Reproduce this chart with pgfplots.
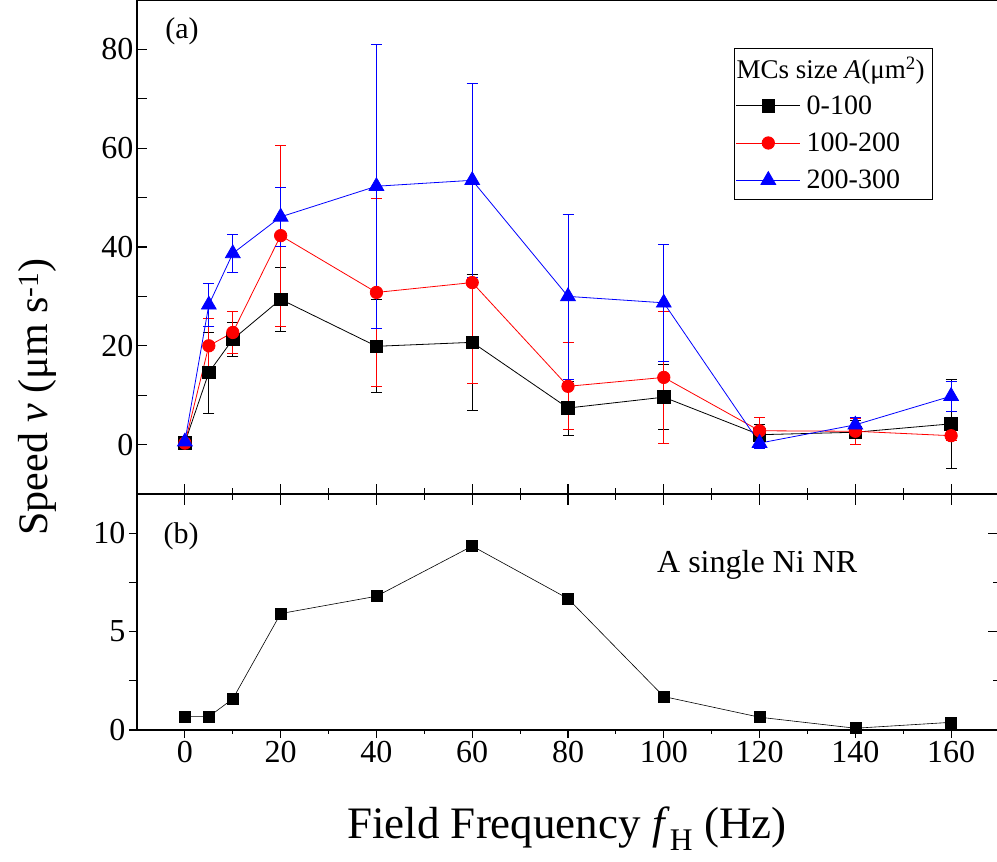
\documentclass[border=0pt]{standalone}
\usepackage{pgfplots}
\pgfplotsset{compat=1.18}
\usepackage{pgfplotstable}
\usepackage{fontspec}
\setmainfont{Liberation Serif}

\pgfplotstableread{
x y ey
0 0.4 0.3
5 14.6 8.2
10 21.3 3.4
20 29.4 6.4
40 19.9 9.4
60 20.7 13.7
80 7.4 5.5
100 9.6 6.6
120 2.0 2.0
140 2.5 2.5
160 4.2 9.0
}\tblack

\pgfplotstableread{
x y ey
0 0.3 0.3
5 20.0 5.6
10 22.7 4.2
20 42.3 18.3
40 30.8 19.0
60 32.8 20.4
80 11.8 8.8
100 13.6 13.4
120 2.8 2.8
140 2.7 2.6
160 1.8 1.0
}\tred

\pgfplotstableread{
x y ey
0 0.6 0.5
5 28.3 4.3
10 38.7 3.9
20 46.1 6.0
40 52.3 28.7
60 53.5 19.6
80 30.0 16.7
100 28.7 11.9
120 0.3 1.0
140 4.0 1.5
160 9.8 3.0
}\tblue

\pgfplotstableread{
x y
0 0.68
5 0.68
10 1.58
20 5.92
40 6.80
60 9.35
80 6.68
100 1.70
120 0.65
140 0.09
160 0.39
}\tsingle

\pgfplotsset{
  common/.style={
    scale only axis, width=862pt,
    xmin=-10, xmax=170,
    xtick={0,20,...,160}, minor x tick num=1,
    axis line style={line width=1.2pt},
    every tick/.style={line width=1.2pt, black},
    tick label style={font=\fontsize{32}{38}\selectfont},
    /pgf/number format/assume math mode=true,
    clip=false,
  },
  eb/.style={error bars/.cd, y dir=both, y explicit,
    error bar style={line width=0.7pt},
    error mark options={rotate=90, mark size=5.5pt, line width=0.7pt}},
}

\begin{document}
\begin{tikzpicture}
\useasboundingbox (-137pt,-132pt) rectangle (860pt,730pt);

% top panel
\begin{axis}[common,
  at={(0pt,236pt)}, anchor=south west, height=494pt,
  ymin=-10, ymax=90,
  ytick={0,20,...,80},
  extra y ticks={10,30,50,70}, extra y tick labels={},
  xticklabels={},
  tick align=inside, xtick pos=bottom, ytick pos=left,
  major tick length=10pt, minor tick length=6pt,
  legend style={at={(0.692,0.903)}, anchor=north west, draw=black,
    line width=0.8pt, font=\fontsize{28}{32}\selectfont,
    cells={anchor=west, inner xsep=1.5pt, inner ysep=3pt},
    row sep=13pt, column sep=4pt,
    inner xsep=2pt, inner ysep=7pt},
  legend image code/.code={\draw[mark repeat=2,mark phase=2] plot coordinates {(0pt,0pt) (32pt,0pt) (64pt,0pt)};},
]
\addlegendimage{legend image code/.code={\node[overlay, anchor=west, inner sep=0pt, font=\fontsize{27}{32}\selectfont] at (0pt,0pt) {MCs size \textit{A}(μm\textsuperscript{2})};}}
\addlegendentry{\rule{0pt}{20pt}\hspace*{122pt}}
\addplot[black, line width=0.8pt, mark=square*, mark size=6.3pt, mark options={solid}, eb]
  table[x=x, y=y, y error=ey] {\tblack};
\addlegendentry{0-100}
\addplot[red, line width=0.8pt, mark=*, mark size=6.2pt, eb]
  table[x=x, y=y, y error=ey] {\tred};
\addlegendentry{100-200}
\addplot[blue, line width=0.8pt, mark=triangle*, mark size=8.5pt, eb]
  table[x=x, y=y, y error=ey] {\tblue};
\addlegendentry{200-300}
\node[font=\fontsize{30}{34}\selectfont] at (axis cs:-0.6,83.6) {(a)};
\end{axis}

% bottom panel
\begin{axis}[common,
  at={(0pt,0pt)}, anchor=south west, height=236pt,
  ymin=0, ymax=12,
  ytick={0,5,10},
  extra y ticks={2.5,7.5}, extra y tick labels={},
  tick align=outside, xtick pos=bottom, ytick pos=left,
  major tick length=8pt, minor tick length=4pt,
]
\addplot[black, line width=0.6pt, mark=square*, mark size=5.5pt]
  table[x=x, y=y] {\tsingle};
\node[font=\fontsize{30}{34}\selectfont] at (axis cs:-0.8,9.85) {(b)};
\node[font=\fontsize{32}{36}\selectfont] at (axis cs:119.5,8.4) {A single Ni NR};
\end{axis}

% inner ticks of bottom panel (top and right)
\begin{axis}[common,
  at={(0pt,0pt)}, anchor=south west, height=236pt,
  ymin=0, ymax=12,
  ytick={0,5,10}, minor y tick num=1,
  xticklabels={}, yticklabels={},
  tick align=inside, xtick pos=top, ytick pos=right,
  major tick length=11pt, minor tick length=6pt,
]
\end{axis}

\node[rotate=90, font=\fontsize{42}{48}\selectfont] at (-100pt,333pt)
  {Speed \textit{v} (μm s\textsuperscript{-1})};
\node[font=\fontsize{45}{50}\selectfont] at (430pt,-99pt)
  {Field Frequency \textit{f}\textsubscript{H} (Hz)};
\end{tikzpicture}
\end{document}
